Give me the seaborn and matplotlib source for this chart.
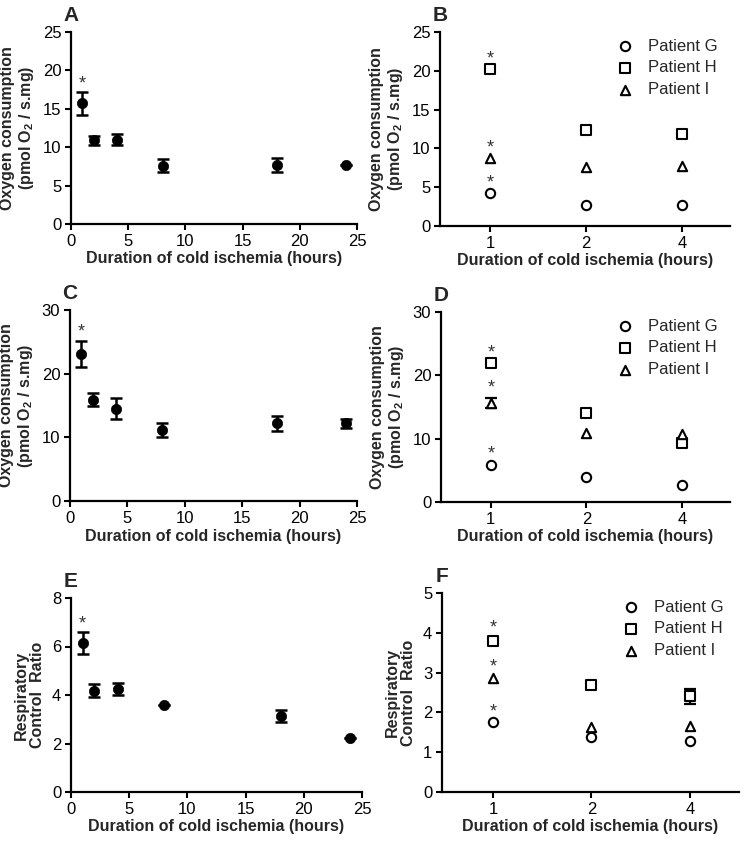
import numpy as np
import pandas as pd
import seaborn as sns
from matplotlib import pyplot as plt

# time course panels (A, C, E)
hours = [1, 2, 4, 8, 18, 24]
a_mean = [15.7, 10.9, 11.0, 7.6, 7.7, 7.7]
a_sem = [1.45, 0.6, 0.7, 0.85, 0.9, 0.0]
c_mean = [23.1, 15.9, 14.5, 11.2, 12.2, 12.2]
c_sem = [2.1, 1.0, 1.6, 1.1, 1.2, 0.75]
e_mean = [6.14, 4.18, 4.24, 3.6, 3.15, 2.22]
e_sem = [0.45, 0.28, 0.26, 0.0, 0.25, 0.0]

# per patient panels (B, D, F)
cat_hours = ["1", "2", "4"]
patients = ["Patient G", "Patient H", "Patient I"]
b_vals = {"Patient G": [4.2, 2.7, 2.7], "Patient H": [20.2, 12.4, 11.9], "Patient I": [8.7, 7.6, 7.7]}
d_vals = {"Patient G": [5.9, 3.9, 2.65], "Patient H": [21.9, 14.0, 9.25], "Patient I": [15.6, 10.9, 10.7]}
d_err = {"Patient G": [0, 0, 0], "Patient H": [0, 0, 0], "Patient I": [0.8, 0, 0]}
f_vals = {"Patient G": [1.75, 1.39, 1.27], "Patient H": [3.8, 2.68, 2.41], "Patient I": [2.87, 1.64, 1.66]}
f_err = {"Patient G": [0, 0, 0], "Patient H": [0.06, 0, 0.19], "Patient I": [0, 0, 0]}
markers = {"Patient G": "o", "Patient H": "s", "Patient I": "^"}

sns.set_style("ticks")
plt.rcParams["font.family"] = ["Liberation Sans", "DejaVu Sans"]
plt.rcParams["mathtext.fontset"] = "custom"
plt.rcParams["mathtext.rm"] = "Liberation Sans"
plt.rcParams["mathtext.bf"] = "Liberation Sans:bold"

fig = plt.figure(figsize=(7.45, 8.43), dpi=100)
W, H = 745.0, 843.0


def make_ax(l, r, t, b):
    return fig.add_axes([l / W, 1 - b / H, (r - l) / W, (b - t) / H])


oxy_label = "Oxygen consumption\n(pmol O$_\\mathbf{2}$ / s.mg)"
rcr_label = "Respiratory\nControl  Ratio"
x_label = "Duration of cold ischemia (hours)"


def style(ax, letter, ylabel, yticks):
    for s in ["top", "right"]:
        ax.spines[s].set_visible(False)
    for s in ["left", "bottom"]:
        ax.spines[s].set_linewidth(1.6)
        ax.spines[s].set_color("black")
    ax.tick_params(width=1.5, length=4.5, labelsize=12, colors="black", pad=2.5)
    ax.set_yticks(yticks)
    ax.set_ylim(yticks[0], yticks[-1])
    ax.set_ylabel(ylabel, fontsize=11.5, fontweight="bold", labelpad=5, linespacing=1.1)
    ax.set_xlabel(x_label, fontsize=11.5, fontweight="bold", labelpad=2)
    ax.text(0.0, 1.035, letter, transform=ax.transAxes, fontsize=15, fontweight="bold",
            ha="center", va="bottom")


def star(ax, x, y):
    ax.annotate("*", (x, y), xytext=(0, 0), textcoords="offset points",
                ha="center", va="bottom", fontsize=13, color="#333333")


def time_panel(ax, mean, sem, letter, ylabel, yticks):
    df = pd.DataFrame({"hours": hours, "value": mean, "sem": sem})
    ax.errorbar(df["hours"], df["value"], yerr=df["sem"], fmt="none", ecolor="black",
                elinewidth=1.8, capsize=4.5, capthick=1.8, zorder=2)
    sns.scatterplot(data=df, x="hours", y="value", ax=ax, color="black", s=55,
                    edgecolor="black", linewidth=0.5, zorder=3)
    ax.set_xlim(0, 25)
    ax.set_xticks([0, 5, 10, 15, 20, 25])
    style(ax, letter, ylabel, yticks)
    star(ax, hours[0], mean[0] + sem[0])


def patient_panel(ax, vals, errs, letter, ylabel, yticks):
    for p in patients:
        df = pd.DataFrame({"hours": cat_hours, "value": vals[p], "err": errs[p]})
        e = df[df["err"] > 0]
        if len(e):
            ax.errorbar(e.index, e["value"], yerr=e["err"], fmt="none", ecolor="black",
                        elinewidth=1.6, capsize=4, capthick=1.6, zorder=2)
        sns.scatterplot(data=df, x="hours", y="value", ax=ax, marker=markers[p], s=45,
                        facecolor="white", edgecolor="black", linewidth=1.5, label=p, zorder=3)
        star(ax, 0, vals[p][0] + errs[p][0] + yticks[-1] * 0.01)
    ax.set_xlim(-0.52, 2.5)
    style(ax, letter, ylabel, yticks)
    ax.legend(loc="upper left", bbox_to_anchor=(0.585, 1.0), frameon=False, fontsize=12,
              handletextpad=0.9, labelspacing=0.4, handlelength=1.0, borderaxespad=0)


no_err = {p: [0, 0, 0] for p in patients}

axA = make_ax(71, 357, 32, 224)
time_panel(axA, a_mean, a_sem, "A", oxy_label, [0, 5, 10, 15, 20, 25])
axB = make_ax(440, 730, 32, 226)
patient_panel(axB, b_vals, no_err, "B", oxy_label, [0, 5, 10, 15, 20, 25])
axC = make_ax(70, 357, 310, 501)
time_panel(axC, c_mean, c_sem, "C", oxy_label, [0, 10, 20, 30])
axD = make_ax(441, 730, 312, 502)
patient_panel(axD, d_vals, d_err, "D", oxy_label, [0, 10, 20, 30])
axE = make_ax(71, 362, 598, 792)
time_panel(axE, e_mean, e_sem, "E", rcr_label, [0, 2, 4, 6, 8])
axF = make_ax(442, 739, 593, 792)
patient_panel(axF, f_vals, f_err, "F", rcr_label, [0, 1, 2, 3, 4, 5])

fig.savefig("out.png", dpi=100)
